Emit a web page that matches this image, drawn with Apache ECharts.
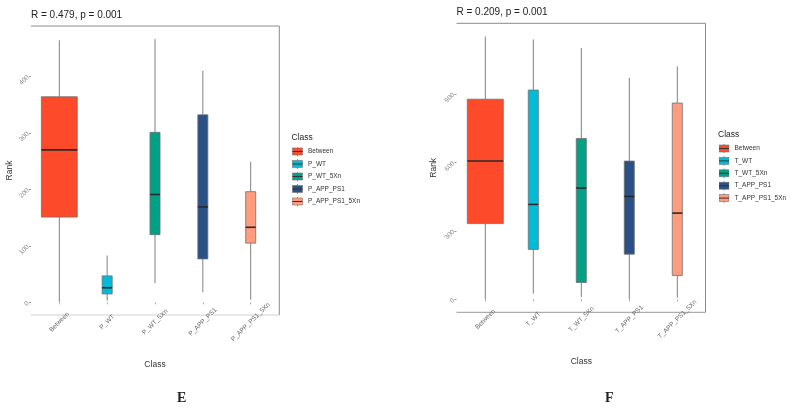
<!DOCTYPE html>
<html>
<head>
<meta charset="utf-8">
<script src="https://cdn.jsdelivr.net/npm/echarts@6/dist/echarts.min.js"></script>
<style>html,body{margin:0;padding:0;background:#fff}#c{width:790px;height:410px}</style>
</head>
<body>
<div id="c"></div>
<script>
// ---------- data ----------
const catsE = ['Between', 'P_WT', 'P_WT_5Xn', 'P_APP_PS1', 'P_APP_PS1_5Xn'];
const eMin = [1, 3, 34, 18, 5];
const eQ1  = [151, 15, 120, 77, 105];
const eMed = [270, 26, 191, 169, 133];
const eQ3  = [364, 47, 301, 332, 196];
const eMax = [464, 83, 466, 410, 249];
const ticksE = [0, 100, 200, 300, 400];
const statE = 'R = 0.479, p = 0.001';

const catsF = ['Between', 'T_WT', 'T_WT_5Xn', 'T_APP_PS1', 'T_APP_PS1_5Xn'];
const fMin = [1, 25, 10, 1, 7];
const fQ1  = [332, 219, 74, 198, 105];
const fMed = [606, 416, 488, 451, 378];
const fQ3  = [877, 917, 705, 606, 860];
const fMax = [1152, 1139, 1101, 971, 1021];
const ticksF = [0, 300, 600, 900];
const statF = 'R = 0.209, p = 0.001';

// ---------- style ----------
const colors = ['#FC4A2B', '#00BCD8', '#00A184', '#2B5086', '#FF9C7E'];
const boxFrac = [0.75, 0.21, 0.21, 0.21, 0.21];
const FONT = 'Liberation Sans, Arial, sans-serif';

function legendIcon(color) {
  const svg = '<svg xmlns="http://www.w3.org/2000/svg" width="22" height="20" viewBox="0 0 11 10">' +
    '<line x1="5.5" y1="0" x2="5.5" y2="10" stroke="#777" stroke-width="0.8"/>' +
    '<rect x="0.5" y="1.5" width="10" height="7" fill="' + color + '" stroke="#777" stroke-width="0.6"/>' +
    '<line x1="0.5" y1="5" x2="10.5" y2="5" stroke="#333" stroke-width="1"/></svg>';
  return 'image://data:image/svg+xml;charset=utf-8,' + encodeURIComponent(svg);
}

function makeRender(i) {
  return function (params, api) {
    const c = api.value(0);
    const pMin = api.coord([c, api.value(1)]);
    const pQ1 = api.coord([c, api.value(2)]);
    const pMed = api.coord([c, api.value(3)]);
    const pQ3 = api.coord([c, api.value(4)]);
    const pMax = api.coord([c, api.value(5)]);
    const bw = api.size([1, 0])[0] * boxFrac[i];
    const cx = pMed[0];
    return {
      type: 'group',
      children: [
        { type: 'line', shape: { x1: cx, y1: pMax[1], x2: cx, y2: pQ3[1] }, style: { stroke: '#808080', lineWidth: 1 } },
        { type: 'line', shape: { x1: cx, y1: pQ1[1], x2: cx, y2: pMin[1] }, style: { stroke: '#808080', lineWidth: 1 } },
        { type: 'rect', shape: { x: cx - bw / 2, y: pQ3[1], width: bw, height: pQ1[1] - pQ3[1] },
          style: { fill: colors[i], stroke: '#707070', lineWidth: 0.8 } },
        { type: 'line', shape: { x1: cx - bw / 2, y1: pMed[1], x2: cx + bw / 2, y2: pMed[1] },
          style: { stroke: '#2a2a2a', lineWidth: 1.6 } }
      ]
    };
  };
}

function buildSeries(cats, mins, q1s, meds, q3s, maxs, axisIdx) {
  return cats.map((name, i) => ({
    type: 'custom',
    name: name,
    xAxisIndex: axisIdx,
    yAxisIndex: axisIdx,
    itemStyle: { color: colors[i] },
    encode: { x: 0, y: [1, 2, 3, 4, 5] },
    data: [[i, mins[i], q1s[i], meds[i], q3s[i], maxs[i]]],
    renderItem: makeRender(i),
    z: 3
  }));
}

function yRange(mins, maxs) {
  const lo = Math.min(...mins), hi = Math.max(...maxs);
  const pad = (hi - lo) * 0.05;
  return [lo - pad, hi + pad];
}
const rE = yRange(eMin, eMax);
const rF = yRange(fMin, fMax);

function xAxisCfg(cats, gi) {
  return {
    type: 'category', gridIndex: gi, data: cats,
    name: 'Class', nameLocation: 'middle', nameGap: 45,
    nameTextStyle: { fontFamily: FONT, fontSize: 8.5, color: '#333' },
    axisLine: { show: false },
    axisTick: { show: true, alignWithLabel: true, length: 2, lineStyle: { color: '#aaa' } },
    axisLabel: { interval: 0, rotate: 45, align: 'center', verticalAlign: 'middle', margin: 7,
      fontFamily: FONT, fontSize: 6.5, color: '#666' },
    splitLine: { show: false }
  };
}
function yAxisCfg(range, ticks, gi, offset, gap) {
  return {
    type: 'value', gridIndex: gi, min: range[0], max: range[1],
    offset: offset,
    name: 'Rank', nameLocation: 'middle', nameGap: gap, nameRotate: 90,
    nameTextStyle: { fontFamily: FONT, fontSize: 8.5, color: '#333' },
    axisLine: { show: false },
    axisTick: { show: true, length: 2, lineStyle: { color: '#999' }, customValues: ticks },
    axisLabel: { rotate: 45, margin: 3, fontFamily: FONT, fontSize: 6.5, color: '#8a8a8a', customValues: ticks },
    splitLine: { show: false }
  };
}

const chart = echarts.init(document.getElementById('c'), null, { renderer: 'canvas' });

const frame = (x0, x1, yt, yb, bottomColor) => ([
  { type: 'polyline', shape: { points: [[x0, yt], [x1, yt], [x1, yb]] }, style: { stroke: '#8a8a8a', lineWidth: 1, fill: null }, silent: true },
  { type: 'line', shape: { x1: x0, y1: yb, x2: x1, y2: yb }, style: { stroke: bottomColor, lineWidth: 1 }, silent: true }
]);
const txt = (x, y, text, font, align) => ({
  type: 'text', x: x, y: y, silent: true,
  style: { text: text, font: font, fill: '#222', align: align || 'left', verticalAlign: 'middle' }
});

chart.setOption({
  animation: false,
  grid: [
    { left: 35.4, top: 26, width: 239.2, height: 289 },
    { left: 461.3, top: 23.3, width: 240, height: 289 }
  ],
  xAxis: [xAxisCfg(catsE, 0), xAxisCfg(catsF, 1)],
  yAxis: [yAxisCfg(rE, ticksE, 0, 4.4, 17), yAxisCfg(rF, ticksF, 1, 4.8, 18)],
  legend: [
    { orient: 'vertical', left: 292, top: 146.5, itemWidth: 11, itemHeight: 10, itemGap: 2.5, padding: 0,
      selectedMode: false, textStyle: { fontFamily: FONT, fontSize: 6.5, color: '#333' },
      data: catsE.map((n, i) => ({ name: n, icon: legendIcon(colors[i]) })) },
    { orient: 'vertical', left: 718.5, top: 143.5, itemWidth: 11, itemHeight: 10, itemGap: 2.4, padding: 0,
      selectedMode: false, textStyle: { fontFamily: FONT, fontSize: 6.5, color: '#333' },
      data: catsF.map((n, i) => ({ name: n, icon: legendIcon(colors[i]) })) }
  ],
  graphic: [
    ...frame(31, 279.3, 26, 315, '#d0d0d0'),
    ...frame(456.5, 705.5, 23.3, 312.3, '#999'),
    txt(31, 15, statE, '10px ' + FONT),
    txt(456.5, 12.3, statF, '10px ' + FONT),
    txt(291.5, 137.7, 'Class', '8.5px ' + FONT),
    txt(718, 135, 'Class', '8.5px ' + FONT),
    txt(181.7, 398.3, 'E', 'bold 14px Liberation Serif, serif', 'center'),
    txt(609.3, 398.3, 'F', 'bold 14px Liberation Serif, serif', 'center')
  ],
  series: [
    ...buildSeries(catsE, eMin, eQ1, eMed, eQ3, eMax, 0),
    ...buildSeries(catsF, fMin, fQ1, fMed, fQ3, fMax, 1)
  ]
});
</script>
</body>
</html>
